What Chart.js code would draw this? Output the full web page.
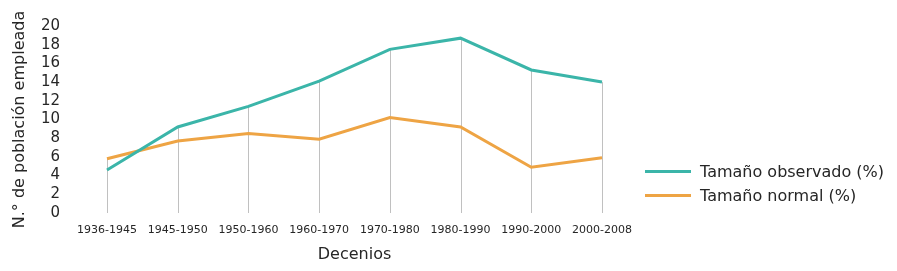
<!DOCTYPE html>
<html>
<head>
<meta charset="utf-8">
<script src="https://cdn.jsdelivr.net/npm/chart.js@4.4.1/dist/chart.umd.min.js"></script>
<style>
  html, body { margin: 0; padding: 0; background: #fff; }
  #wrap { width: 897px; height: 271px; position: relative; }
  #legend { position: absolute; left: 645px; top: 160px; font-family: 'DejaVu Sans', sans-serif; font-size: 16px; color: #262626; }
  #legend div { height: 24px; line-height: 24px; white-space: nowrap; }
  #legend span.swatch { display: inline-block; width: 46px; height: 3px; vertical-align: middle; margin-right: 9px; position: relative; top: -1px; }
</style>
</head>
<body>
<div id="wrap"><canvas id="chart"></canvas><div id="legend"></div></div>
<script>
const decades = ["1936-1945", "1945-1950", "1950-1960", "1960-1970", "1970-1980", "1980-1990", "1990-2000", "2000-2008"];
const observed = [4.6, 9.2, 11.4, 14.1, 17.5, 18.7, 15.3, 14.0];
const normal = [5.8, 7.7, 8.5, 7.9, 10.2, 9.2, 4.9, 5.9];

const font_family = "'DejaVu Sans', sans-serif";
const text_color = "#262626";

// vertical drop lines from the highest point of each category down to the axis
const drop_lines = {
    id: "drop_lines",
    beforeDatasetsDraw(chart) {
        let ctx = chart.ctx;
        let x_scale = chart.scales.x;
        let y_scale = chart.scales.y;
        ctx.save();
        ctx.strokeStyle = "#c0c0c0";
        ctx.lineWidth = 1;
        for (let i = 0; i < decades.length; i++) {
            let top = Math.max(observed[i], normal[i]);
            let x = Math.round(x_scale.getPixelForValue(i)) + 0.5;
            ctx.beginPath();
            ctx.moveTo(x, y_scale.getPixelForValue(top));
            ctx.lineTo(x, y_scale.getPixelForValue(0));
            ctx.stroke();
        }
        ctx.restore();
    }
};

let chart_ctx = document.getElementById("chart").getContext("2d");
let line_chart = new Chart(chart_ctx, {
    type: "line",
    data: {
        labels: decades,
        datasets: [{
            label: "Tamaño observado (%)",
            data: observed,
            borderColor: "#3bb5a9",
            backgroundColor: "#3bb5a9",
            borderWidth: 3,
            pointRadius: 0,
            tension: 0
        }, {
            label: "Tamaño normal (%)",
            data: normal,
            borderColor: "#eea444",
            backgroundColor: "#eea444",
            borderWidth: 3,
            pointRadius: 0,
            tension: 0
        }]
    },
    options: {
        responsive: true,
        maintainAspectRatio: false,
        animation: false,
        events: [],
        layout: {
            padding: { left: 4, right: 295, top: 26, bottom: 0 }
        },
        plugins: {
            legend: { display: false },
            tooltip: { enabled: false }
        },
        scales: {
            x: {
                offset: false,
                grid: { display: false, drawTicks: false },
                border: { display: false },
                ticks: {
                    color: text_color,
                    font: { family: font_family, size: 11 },
                    maxRotation: 0,
                    autoSkip: false,
                    padding: 11
                },
                title: {
                    display: true,
                    text: "Decenios",
                    color: text_color,
                    font: { family: font_family, size: 16 },
                    padding: { top: 0, bottom: 7 }
                },
                afterFit(scale) {
                    scale.height = 58;
                }
            },
            y: {
                min: 0,
                max: 20,
                grid: { display: false, drawTicks: false },
                border: { display: false },
                ticks: {
                    stepSize: 2,
                    autoSkip: false,
                    color: text_color,
                    font: { family: font_family, size: 15 },
                    padding: 47
                },
                title: {
                    display: true,
                    text: "N.° de población empleada",
                    color: text_color,
                    font: { family: font_family, size: 16 },
                    padding: { top: 6, bottom: 0 }
                },
                afterFit(scale) {
                    scale.width = 103;
                    // the big tick padding should not push the plot down
                    scale.paddingTop = 8;
                    scale.paddingBottom = 8;
                }
            }
        }
    },
    plugins: [drop_lines]
});

// html legend built from the datasets
let legend_box = document.getElementById("legend");
line_chart.data.datasets.forEach(ds => {
    let row = document.createElement("div");
    let swatch = document.createElement("span");
    swatch.className = "swatch";
    swatch.style.background = ds.borderColor;
    row.appendChild(swatch);
    row.appendChild(document.createTextNode(ds.label));
    legend_box.appendChild(row);
});
</script>
</body>
</html>
